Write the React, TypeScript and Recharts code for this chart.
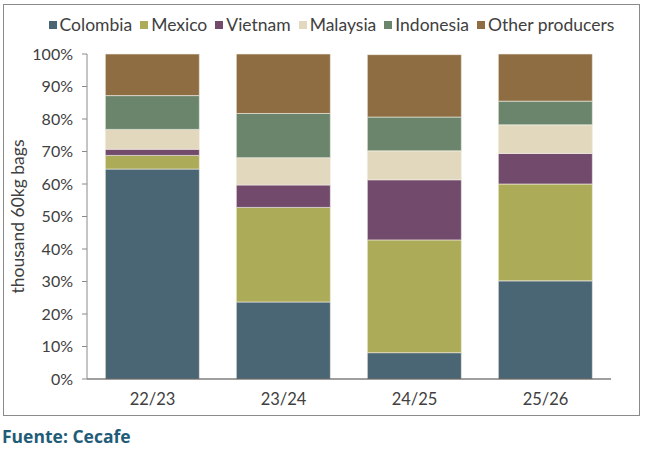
import React from "react";
import { BarChart, Bar, XAxis, YAxis } from "recharts";

const seasons = ["22/23", "23/24", "24/25", "25/26"];
const colombia = [64.6, 23.7, 8.1, 30.2];
const mexico = [4.2, 29.1, 34.7, 29.8];
const vietnam = [1.9, 6.9, 18.5, 9.4];
const malaysia = [6.1, 8.4, 8.9, 8.8];
const indonesia = [10.4, 13.6, 10.4, 7.3];
const otherProducers = [12.8, 18.3, 19.2, 14.5];
const yTicks = [0, 10, 20, 30, 40, 50, 60, 70, 80, 90, 100];

const series = [
  { key: "Colombia", values: colombia, color: "#4a6573" },
  { key: "Mexico", values: mexico, color: "#abab58" },
  { key: "Vietnam", values: vietnam, color: "#714a6c" },
  { key: "Malaysia", values: malaysia, color: "#e1d8be" },
  { key: "Indonesia", values: indonesia, color: "#6a856c" },
  { key: "Other producers", values: otherProducers, color: "#8e6d43" },
];

const data = seasons.map((season, i) => {
  const row: Record<string, number | string> = { season, idx: i + 0.5 };
  series.forEach((s) => (row[s.key] = s.values[i]));
  return row;
});

const FONT = "Lato, 'Noto Sans', sans-serif";
const TEXT = "#404040";

function ChartLegend() {
  return (
    <div
      style={{
        position: "absolute",
        left: 0,
        top: 14,
        width: 663,
        display: "flex",
        justifyContent: "center",
        gap: 8,
        fontFamily: FONT,
        fontSize: 17.5,
        lineHeight: "22px",
        color: TEXT,
        whiteSpace: "nowrap",
      }}
    >
      {series.map((s) => (
        <span key={s.key} style={{ display: "flex", alignItems: "center" }}>
          <span
            style={{
              width: 8,
              height: 8,
              background: s.color,
              marginRight: 3,
              display: "inline-block",
            }}
          />
          {s.key}
        </span>
      ))}
    </div>
  );
}

export default function App() {
  return (
    <div
      style={{
        position: "absolute",
        left: 0,
        top: 0,
        width: 645,
        height: 451,
        background: "#ffffff",
      }}
    >
      <div
        style={{
          position: "absolute",
          left: 3,
          top: 4,
          width: 637,
          height: 412,
          border: "1px solid #8a8a8a",
          boxSizing: "border-box",
        }}
      >
        <BarChart
          width={635}
          height={410}
          data={data}
          margin={{ top: 49, right: 28, bottom: 0, left: 0 }}
          barCategoryGap="14%"
        >
          <XAxis
            xAxisId="edges"
            type="number"
            dataKey="idx"
            domain={[0, 4]}
            ticks={[0, 1, 2, 3, 4]}
            tick={false}
            height={0}
            axisLine={false}
            tickLine={{ stroke: "#404040" }}
            tickSize={5}
          />
          <XAxis
            dataKey="season"
            height={36}
            axisLine={{ stroke: "#404040" }}
            tickLine={false}
            tick={{ fontSize: 16.5, fill: TEXT, fontFamily: FONT }}
            tickMargin={8}
          />
          <YAxis
            width={83}
            domain={[0, 100]}
            ticks={yTicks}
            interval={0}
            tickFormatter={(v: number) => `${v}%`}
            tick={{ fontSize: 16, fill: TEXT, fontFamily: FONT }}
            axisLine={{ stroke: "#8a8a8a" }}
            tickLine={{ stroke: "#8a8a8a" }}
            tickSize={5}
            tickMargin={9}
            label={{
              value: "thousand 60kg bags",
              angle: -90,
              position: "insideLeft",
              offset: 14,
              style: {
                textAnchor: "middle",
                fontSize: 17.5,
                fill: TEXT,
                fontFamily: FONT,
              },
            }}
          />
          {series.map((s) => (
            <Bar
              key={s.key}
              dataKey={s.key}
              stackId="a"
              fill={s.color}
              stroke="#f3efe4"
              strokeWidth={0.6}
              isAnimationActive={false}
            />
          ))}
        </BarChart>
      </div>
      <ChartLegend />
      <div
        style={{
          position: "absolute",
          left: 2,
          top: 424,
          fontFamily: "'Open Sans', sans-serif",
          fontWeight: 700,
          fontSize: 17.5,
          color: "#1f5c78",
          whiteSpace: "nowrap",
        }}
      >
        Fuente: Cecafe
      </div>
    </div>
  );
}
